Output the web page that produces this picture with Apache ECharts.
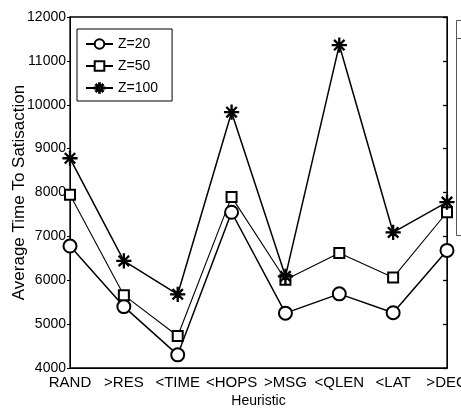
<!DOCTYPE html>
<html>
<head>
<meta charset="utf-8">
<script src="https://cdn.jsdelivr.net/npm/echarts@6/dist/echarts.min.js"></script>
<style>html,body{margin:0;padding:0;background:#fff}#c{width:461px;height:413px}</style>
</head>
<body>
<div id="c"></div>
<script>
const categories = ['RAND', '>RES', '<TIME', '<HOPS', '>MSG', '<QLEN', '<LAT', '>DEG'];
const z20 = [6780, 5400, 4300, 7550, 5250, 5690, 5260, 6680];
const z50 = [7950, 5660, 4730, 7900, 6010, 6620, 6060, 7550];
const z100 = [8780, 6440, 5680, 9830, 6090, 11360, 7090, 7780];
const seriesNames = ['Z=20', 'Z=50', 'Z=100'];
const yTicks = [4000, 5000, 6000, 7000, 8000, 9000, 10000, 11000, 12000];

const star = 'path://M9.2 0 H10.8 V20 H9.2 Z M0 9.2 H20 V10.8 H0 Z M2.6 3.7 L3.7 2.6 L17.4 16.3 L16.3 17.4 Z M16.3 2.6 L17.4 3.7 L3.7 17.4 L2.6 16.3 Z';
const font = 'Liberation Sans, Arial, sans-serif';

const chart = echarts.init(document.getElementById('c'), null, {renderer: 'canvas'});
function mk(name, data, symbol, size, width) {
  return {
    name: name, type: 'line', data: data,
    symbol: symbol, symbolSize: size, showAllSymbol: true,
    lineStyle: {color: '#000', width: width},
    itemStyle: {color: '#000', borderColor: '#000', borderWidth: 1.2},
    emphasis: {disabled: true},
    animation: false
  };
}
chart.setOption({
  animation: false,
  backgroundColor: '#fff',
  grid: {left: 70, right: 14, top: 17, bottom: 45, containLabel: false, outerBoundsMode: 'none',
         show: true, borderColor: '#000', borderWidth: 1.3, backgroundColor: 'transparent'},
  legend: {
    data: seriesNames,
    orient: 'vertical', left: 77, top: 29,
    borderColor: '#000', borderWidth: 1, borderRadius: 0,
    padding: [8, 14, 6, 8],
    itemWidth: 27, itemHeight: 12, itemGap: 8,
    backgroundColor: '#fff',
    textStyle: {fontFamily: font, fontSize: 14, color: '#000'}
  },
  xAxis: {
    type: 'category', data: categories, boundaryGap: false,
    name: 'Heuristic', nameLocation: 'middle', nameGap: 26, nameMoveOverlap: false,
    nameTextStyle: {fontFamily: font, fontSize: 14, color: '#000'},
    axisLine: {lineStyle: {color: '#000'}},
    axisTick: {show: false},
    axisLabel: {interval: 0, fontFamily: font, fontSize: 15, color: '#000', margin: 7},
    splitLine: {show: false}
  },
  yAxis: [{
    type: 'value', min: yTicks[0], max: yTicks[yTicks.length - 1], interval: 1000,
    name: 'Average Time To Satisaction', nameLocation: 'middle', nameGap: 42, nameMoveOverlap: false,
    nameTextStyle: {fontFamily: font, fontSize: 17, color: '#000'},
    axisLine: {show: true, lineStyle: {color: '#000'}},
    axisTick: {show: true, length: 3, lineStyle: {color: '#000'}},
    axisLabel: {fontFamily: font, fontSize: 14, color: '#000', margin: 4, formatter: v => String(v)},
    splitLine: {show: false}
  }, {
    type: 'value', position: 'right', min: yTicks[0], max: yTicks[yTicks.length - 1], interval: 1000,
    axisLine: {show: true, lineStyle: {color: '#000'}},
    axisTick: {show: true, inside: true, length: 4, lineStyle: {color: '#000', width: 1.3}},
    axisLabel: {show: false},
    splitLine: {show: false}
  }],
  graphic: [{
    type: 'rect', shape: {x: 456.5, y: 20.5, width: 30, height: 215},
    style: {fill: 'none', stroke: '#555', lineWidth: 1}
  }, {
    type: 'line', shape: {x1: 456.5, y1: 38.5, x2: 461, y2: 38.5},
    style: {stroke: '#555', lineWidth: 1}
  }],
  series: [
    mk(seriesNames[0], z20, 'emptyCircle', 13, 1.5),
    mk(seriesNames[1], z50, 'emptyRect', 10, 1.1),
    mk(seriesNames[2], z100, star, 14, 1.5)
  ]
});
</script>
</body>
</html>
